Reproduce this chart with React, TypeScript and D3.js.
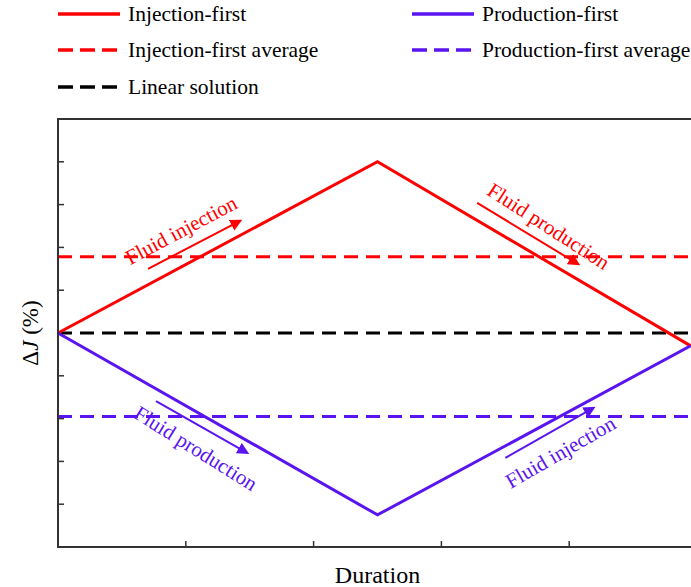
import React from "react";
import * as d3 from "d3";

// duration (arbitrary units) and ΔJ (%)
const durations = [0, 2.5, 4.95];
const injectionFirst = [0, 4.0, -0.3];
const productionFirst = [0, -4.25, -0.3];
const injectionAvg = 1.78;
const productionAvg = -1.95;
const linearSolution = 0;

const xTicks = [1, 2, 3, 4];
const yTicks = [-4, -3, -2, -1, 0, 1, 2, 3, 4];

const legendItems = [
  { label: "Injection-first", color: "#ff0000", dash: false, col: 0, row: 0 },
  { label: "Injection-first average", color: "#ff0000", dash: true, col: 0, row: 1 },
  { label: "Linear solution", color: "#000000", dash: true, col: 0, row: 2 },
  { label: "Production-first", color: "#5a14f0", dash: false, col: 1, row: 0 },
  { label: "Production-first average", color: "#5a14f0", dash: true, col: 1, row: 1 },
];

// annotation arrows and labels, in data units
const annotations = [
  { text: "Fluid injection", color: "#ff0000", from: [0.705, 1.5], to: [1.425, 2.62], at: [0.963, 2.41], angle: -28 },
  { text: "Fluid production", color: "#ff0000", from: [3.28, 3.04], to: [4.07, 1.61], at: [3.84, 2.5], angle: 33 },
  { text: "Fluid production", color: "#5a14f0", from: [0.767, -1.59], to: [1.48, -2.8], at: [1.08, -2.69], angle: 32 },
  { text: "Fluid injection", color: "#5a14f0", from: [3.5, -2.92], to: [4.19, -1.75], at: [3.93, -2.78], angle: -30 },
];

const RED = "#ff0000";
const BLUE = "#5a14f0";
const FONT = "'Liberation Serif', 'Times New Roman', serif";

export default function App() {
  const width = 691;
  const height = 587;
  const m = { left: 58, top: 119, right: 697, bottom: 547 };

  const x = d3.scaleLinear().domain([0, 5]).range([m.left, m.right]);
  const y = d3.scaleLinear().domain([-5, 5]).range([m.bottom, m.top]);

  const line = d3
    .line<number>()
    .x((_, i) => x(durations[i]))
    .y((d) => y(d));

  const hLine = (v: number) => ({ x1: x(0), x2: x(5), y1: y(v), y2: y(v) });

  return (
    <svg
      width={width}
      height={height}
      style={{ position: "absolute", left: 0, top: 0, background: "#fff", fontFamily: FONT }}
    >
      <defs>
        <marker id="arrRed" viewBox="0 0 10 10" refX="8" refY="5" markerWidth="6" markerHeight="6" orient="auto">
          <path d="M0,0 L10,5 L0,10 z" fill={RED} />
        </marker>
        <marker id="arrBlue" viewBox="0 0 10 10" refX="8" refY="5" markerWidth="6" markerHeight="6" orient="auto">
          <path d="M0,0 L10,5 L0,10 z" fill={BLUE} />
        </marker>
      </defs>

      {/* legend */}
      {legendItems.map((d) => {
        const lx = d.col === 0 ? 58 : 412;
        const baseY = [21, 57, 94][d.row];
        return (
          <g key={d.label}>
            <line
              x1={lx}
              x2={lx + 62}
              y1={baseY - 7}
              y2={baseY - 7}
              stroke={d.color}
              strokeWidth={3.5}
              strokeDasharray={d.dash ? "15 7" : undefined}
            />
            <text x={lx + 70} y={baseY} fontSize={21.5} fill="#000">
              {d.label}
            </text>
          </g>
        );
      })}

      {/* ticks, inward */}
      {yTicks.map((t) => (
        <line key={"y" + t} x1={x(0)} x2={x(0) + 6} y1={y(t)} y2={y(t)} stroke="#333" strokeWidth={1.5} />
      ))}
      {xTicks.map((t) => (
        <line key={"x" + t} x1={x(t)} x2={x(t)} y1={y(-5)} y2={y(-5) - 6} stroke="#333" strokeWidth={1.5} />
      ))}

      {/* averages and linear solution */}
      <line {...hLine(injectionAvg)} stroke={RED} strokeWidth={3} strokeDasharray="14 8" />
      <line {...hLine(productionAvg)} stroke={BLUE} strokeWidth={3} strokeDasharray="14 8" />
      <line {...hLine(linearSolution)} stroke="#000" strokeWidth={3} strokeDasharray="14 8" />

      {/* main series */}
      <path d={line(injectionFirst) || ""} fill="none" stroke={RED} strokeWidth={3} />
      <path d={line(productionFirst) || ""} fill="none" stroke={BLUE} strokeWidth={3} />

      {/* annotations */}
      {annotations.map((a, i) => (
        <g key={i}>
          <line
            x1={x(a.from[0])}
            y1={y(a.from[1])}
            x2={x(a.to[0])}
            y2={y(a.to[1])}
            stroke={a.color}
            strokeWidth={2}
            markerEnd={a.color === RED ? "url(#arrRed)" : "url(#arrBlue)"}
          />
          <text
            transform={`translate(${x(a.at[0])},${y(a.at[1])}) rotate(${a.angle})`}
            textAnchor="middle"
            dy="0.35em"
            fontSize={21}
            fill={a.color}
          >
            {a.text}
          </text>
        </g>
      ))}

      {/* frame */}
      <rect
        x={m.left}
        y={m.top}
        width={m.right - m.left}
        height={m.bottom - m.top}
        fill="none"
        stroke="#333"
        strokeWidth={2}
      />

      {/* axis titles */}
      <text x={x(2.5)} y={583} textAnchor="middle" fontSize={24} fill="#000">
        Duration
      </text>
      <text transform={`translate(38,${y(0)}) rotate(-90)`} textAnchor="middle" fontSize={23} fill="#000">
        <tspan>Δ</tspan>
        <tspan fontStyle="italic">J</tspan>
        <tspan> (%)</tspan>
      </text>
    </svg>
  );
}
